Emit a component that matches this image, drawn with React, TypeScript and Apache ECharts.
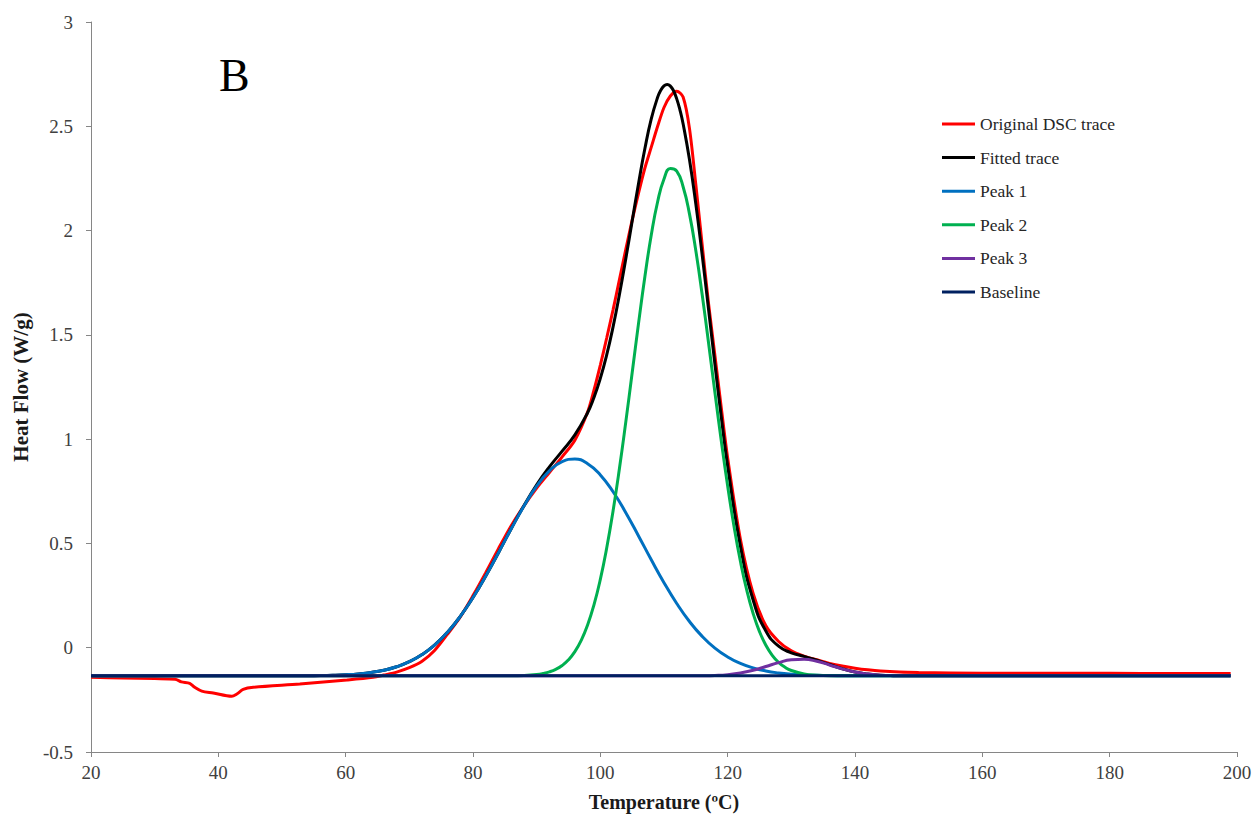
import React, { useEffect, useRef } from "react";
import * as echarts from "echarts";

// ---- Data ----
const xTicks = [20, 40, 60, 80, 100, 120, 140, 160, 180, 200];
const yTicks = [-0.5, 0, 0.5, 1, 1.5, 2, 2.5, 3];

const seriesNames = ["Original DSC trace", "Fitted trace", "Peak 1", "Peak 2", "Peak 3", "Baseline"];
const seriesColors = ["#FF0000", "#000000", "#0070C0", "#00B050", "#7030A0", "#002060"];

const originalT = [20, 25, 30, 33.2, 34.2, 35.5, 36.3, 37.4, 39.2, 42.1, 42.9, 43.9, 45.5, 52.8, 60.2, 64.3, 66, 68, 70, 72, 74, 76, 78, 80, 82, 84, 86, 88, 90, 92, 94, 96, 98, 99, 100, 101, 102, 103, 104, 105, 106, 107, 108, 109, 110, 111, 112, 113, 114, 115, 116, 117, 118, 119, 120, 122, 124, 126, 128, 130, 132, 134, 136, 138, 140, 142, 144, 147, 150, 160, 170, 180, 190, 199];
const originalV = [-0.142, -0.145, -0.148, -0.151, -0.164, -0.171, -0.19, -0.208, -0.217, -0.233, -0.222, -0.2, -0.19, -0.174, -0.155, -0.142, -0.131, -0.117, -0.096, -0.065, -0.012, 0.065, 0.148, 0.25, 0.36, 0.475, 0.585, 0.68, 0.765, 0.84, 0.915, 0.995, 1.13, 1.235, 1.355, 1.485, 1.62, 1.765, 1.91, 2.05, 2.18, 2.3, 2.4, 2.5, 2.59, 2.645, 2.668, 2.64, 2.49, 2.22, 1.93, 1.65, 1.4, 1.15, 0.91, 0.52, 0.26, 0.105, 0.03, -0.015, -0.04, -0.058, -0.075, -0.088, -0.098, -0.106, -0.112, -0.117, -0.119, -0.122, -0.123, -0.123, -0.124, -0.124];

const fittedT = [20, 52, 54, 56, 58, 60, 62, 64, 66, 68, 70, 72, 74, 76, 78, 80, 82, 84, 86, 88, 90, 92, 94, 96, 98, 99, 100, 101, 102, 103, 104, 105, 106, 107, 108, 109, 109.5, 110, 110.5, 111, 111.5, 112, 112.5, 113, 114, 115, 116, 117, 118, 119, 120, 122, 124, 126, 128, 130, 132, 134, 136, 138, 140, 142, 144, 146, 148, 150, 199];
const fittedV = [-0.135, -0.1346, -0.1342, -0.1335, -0.1321, -0.1296, -0.1255, -0.1186, -0.1078, -0.0914, -0.0671, -0.0329, 0.0136, 0.0742, 0.15, 0.2405, 0.3438, 0.4557, 0.5706, 0.6811, 0.7811, 0.867, 0.9424, 1.0206, 1.1267, 1.1996, 1.2912, 1.4039, 1.5383, 1.6937, 1.8651, 2.0457, 2.2258, 2.3932, 2.5352, 2.6388, 2.6729, 2.6938, 2.7005, 2.6926, 2.6702, 2.6314, 2.5789, 2.5121, 2.3405, 2.1267, 1.8822, 1.6217, 1.3586, 1.1055, 0.8716, 0.4878, 0.2288, 0.0797, 0.0073, -0.0243, -0.0418, -0.0597, -0.0804, -0.1007, -0.1165, -0.1265, -0.1317, -0.1339, -0.1345, -0.135, -0.135];

const peak1T = [20, 52, 56, 58, 60, 62, 64, 66, 68, 70, 72, 74, 76, 78, 80, 82, 84, 86, 88, 90, 92, 94, 96, 98, 100, 102, 104, 106, 108, 110, 112, 114, 116, 118, 120, 122, 124, 126, 128, 130, 132, 134, 136, 140, 199];
const peak1V = [-0.135, -0.1346, -0.1335, -0.1321, -0.1296, -0.1255, -0.1186, -0.1078, -0.0914, -0.0671, -0.0329, 0.0136, 0.0742, 0.15, 0.2405, 0.3438, 0.4557, 0.57, 0.679, 0.7744, 0.8478, 0.8927, 0.9046, 0.8825, 0.8285, 0.7476, 0.6473, 0.5359, 0.4216, 0.3117, 0.2119, 0.1256, 0.0545, -0.0018, -0.0443, -0.0753, -0.097, -0.1116, -0.121, -0.127, -0.1305, -0.1326, -0.1337, -0.1347, -0.135];

const peak2T = [20, 86, 88, 90, 91, 92, 93, 94, 95, 96, 97, 98, 99, 100, 101, 102, 103, 104, 105, 106, 107, 108, 109, 110, 111, 112, 113, 114, 115, 116, 117, 118, 119, 120, 121, 122, 123, 124, 125, 126, 127, 128, 129, 130, 132, 134, 136, 199];
const peak2V = [-0.135, -0.1344, -0.1329, -0.1283, -0.1235, -0.1158, -0.1037, -0.0853, -0.0581, -0.019, 0.0355, 0.1092, 0.2054, 0.3277, 0.4779, 0.6557, 0.8592, 1.0828, 1.3182, 1.5549, 1.7796, 1.9786, 2.1381, 2.2471, 2.2972, 2.2845, 2.2102, 2.0799, 1.9031, 1.692, 1.4609, 1.2232, 0.9914, 0.775, 0.5814, 0.4144, 0.2755, 0.164, 0.0771, 0.0116, -0.0363, -0.0702, -0.0936, -0.1092, -0.1258, -0.132, -0.1341, -0.135];

const peak3T = [20, 114, 116, 118, 120, 122, 124, 126, 128, 130, 132, 134, 136, 138, 140, 142, 144, 146, 148, 199];
const peak3V = [-0.135, -0.1348, -0.1343, -0.1328, -0.1291, -0.1213, -0.1082, -0.0903, -0.0715, -0.0581, -0.0556, -0.0651, -0.0826, -0.1015, -0.1168, -0.1265, -0.1317, -0.1339, -0.1345, -0.135];

const baselineT = [20, 199];
const baselineV = [-0.135, -0.135];

const allT = [originalT, fittedT, peak1T, peak2T, peak3T, baselineT];
const allV = [originalV, fittedV, peak1V, peak2V, peak3V, baselineV];

const FONT = "'Liberation Serif', 'Times New Roman', serif";

export default function App() {
  const ref = useRef<HTMLDivElement>(null);

  useEffect(() => {
    if (!ref.current) return;
    const chart = echarts.init(ref.current, undefined, { renderer: "svg" });

    const series = seriesNames.map((name, i) => ({
      name,
      type: "line",
      data: allT[i].map((t, j) => [t, allV[i][j]]),
      symbol: "none",
      showSymbol: false,
      smooth: i === 0 ? 0.3 : 0.5,
      lineStyle: { color: seriesColors[i], width: 3 },
      itemStyle: { color: seriesColors[i] },
      emphasis: { disabled: true },
    }));

    chart.setOption({
      animation: false,
      backgroundColor: "#ffffff",
      textStyle: { fontFamily: FONT },
      grid: { left: 91, right: 20, top: 22, bottom: 70, containLabel: false },
      legend: {
        orient: "vertical",
        left: 942,
        top: 115,
        padding: 0,
        icon: "rect",
        itemWidth: 33,
        itemHeight: 3,
        itemGap: 15.6,
        data: seriesNames,
        textStyle: { fontSize: 17.5, fontFamily: FONT, color: "#262626", lineHeight: 18 },
        selectedMode: false,
      },
      xAxis: {
        type: "value",
        min: xTicks[0],
        max: xTicks[xTicks.length - 1],
        interval: 20,
        name: "Temperature (ºC)",
        nameLocation: "middle",
        nameGap: 40,
        nameTextStyle: { fontSize: 20, fontWeight: "bold", fontFamily: FONT, color: "#1a1a1a" },
        axisLine: { show: true, onZero: false, lineStyle: { color: "#868686", width: 1 } },
        axisTick: { show: true, length: 5, lineStyle: { color: "#868686" } },
        splitLine: { show: false },
        axisLabel: { fontSize: 19, fontFamily: FONT, color: "#404040", margin: 11 },
      },
      yAxis: {
        type: "value",
        min: yTicks[0],
        max: yTicks[yTicks.length - 1],
        interval: 0.5,
        name: "Heat Flow (W/g)",
        nameLocation: "middle",
        nameGap: 60,
        nameRotate: 90,
        nameTextStyle: { fontSize: 21, fontWeight: "bold", fontFamily: FONT, color: "#1a1a1a" },
        axisLine: { show: true, onZero: false, lineStyle: { color: "#868686", width: 1 } },
        axisTick: { show: true, length: 5, lineStyle: { color: "#868686" } },
        splitLine: { show: false },
        axisLabel: { fontSize: 19, fontFamily: FONT, color: "#404040", margin: 18 },
      },
      graphic: [
        {
          type: "text",
          left: 219,
          top: 52,
          style: { text: "B", fontSize: 46, fontFamily: FONT, fill: "#000000" },
        },
      ],
      series,
    });

    return () => chart.dispose();
  }, []);

  return (
    <div
      ref={ref}
      style={{ position: "fixed", left: 0, top: 0, width: 1257, height: 822, background: "#fff" }}
    />
  );
}
